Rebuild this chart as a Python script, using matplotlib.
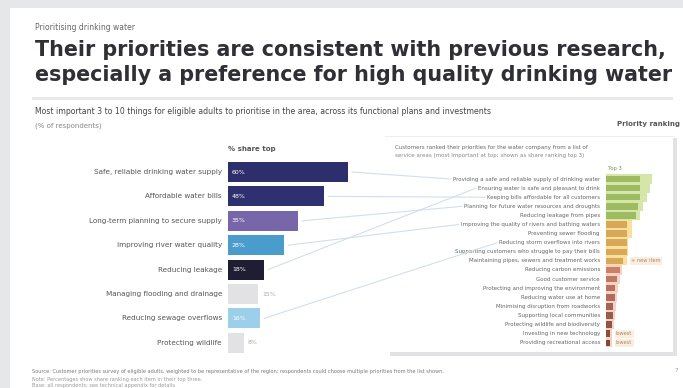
import matplotlib
matplotlib.use("Agg")
import matplotlib.pyplot as plt
from matplotlib.patches import Rectangle, ConnectionPatch

# ---------------- data ----------------
supertitle = "Prioritising drinking water"
title_lines = ["Their priorities are consistent with previous research,",
               "especially a preference for high quality drinking water"]
subtitle = ["Most important 3 to 10 things for eligible adults to prioritise in the area, across its functional plans and investments",
            "(% of respondents)"]
left_header = "% share top"
right_header = "Priority ranking"

left_labels = ["Safe, reliable drinking water supply",
               "Affordable water bills",
               "Long-term planning to secure supply",
               "Improving river water quality",
               "Reducing leakage",
               "Managing flooding and drainage",
               "Reducing sewage overflows",
               "Protecting wildlife"]
left_values = [60, 48, 35, 28, 18, 15, 16, 8]
left_value_labels = ["60%", "48%", "35%", "28%", "18%", "15%", "16%", "8%"]
left_colors = ["#2d2e6c", "#2f3070", "#7766aa", "#4a9ccd", "#1e1d33",
               "#e2e2e4", "#9ccfe9", "#e2e2e4"]
left_text_inside = [True, True, True, True, True, False, True, False]

panel_note = ["Customers ranked their priorities for the water company from a list of",
              "service areas (most important at top; shown as share ranking top 3)"]
right_labels = ["Providing a safe and reliable supply of drinking water",
                "Ensuring water is safe and pleasant to drink",
                "Keeping bills affordable for all customers",
                "Planning for future water resources and droughts",
                "Reducing leakage from pipes",
                "Improving the quality of rivers and bathing waters",
                "Preventing sewer flooding",
                "Reducing storm overflows into rivers",
                "Supporting customers who struggle to pay their bills",
                "Maintaining pipes, sewers and treatment works",
                "Reducing carbon emissions",
                "Good customer service",
                "Protecting and improving the environment",
                "Reducing water use at home",
                "Minimising disruption from roadworks",
                "Supporting local communities",
                "Protecting wildlife and biodiversity",
                "Investing in new technology",
                "Providing recreational access"]
right_outer = [46, 44, 41, 37, 34, 26, 26, 22, 22, 21, 16, 14, 12, 11, 10, 9, 8, 6, 6]
right_inner = [34, 34, 34, 32, 30, 21, 21, 21, 21, 17, 14, 11, 9, 9, 7, 7, 6, 4, 4]
right_inner_colors = ["#9cbb62"] * 5 + ["#d8a85a"] * 5 + \
                     ["#c98068", "#c07a64", "#b97262", "#b06c5c", "#a46454",
                      "#985c4c", "#8f5545", "#86503f", "#7f4a3b"]
right_outer_colors = ["#d4e7a9"] * 5 + ["#fddf9c"] * 5 + ["#f7d2c3"] * 9
right_notes = {9: "+ new item", 17: "lowest", 18: "lowest"}

links = [(0, 0), (1, 2), (2, 3), (3, 5), (4, 1), (6, 7)]

footnote = ["Source: Customer priorities survey of eligible adults, weighted to be representative of the region; respondents could choose multiple priorities from the list shown.",
            "Note: Percentages show share ranking each item in their top three.",
            "Base: all respondents; see technical appendix for details"]

# ---------------- figure ----------------
W, H = 683, 388
fig = plt.figure(figsize=(W / 100, H / 100), dpi=100)
fig.patch.set_facecolor("#e6e7e9")


def fx(x):
    return x / W


def fy(y):
    return 1 - y / H


# white card
fig.add_artist(Rectangle((fx(10), 0), 1 - fx(10), fy(8), transform=fig.transFigure,
                         facecolor="white", edgecolor="none", zorder=0))

fig.text(fx(35), fy(28), supertitle, fontsize=5.5, color="#666666", va="center")
fig.text(fx(35), fy(50), title_lines[0], fontsize=14.9, fontweight="bold",
         color="#2f2f35", va="center")
fig.text(fx(35), fy(75), title_lines[1], fontsize=14.9, fontweight="bold",
         color="#2f2f35", va="center")
fig.add_artist(Rectangle((fx(32), fy(100)), fx(673 - 32), 3 / H, transform=fig.transFigure,
                         facecolor="#e9e9eb", edgecolor="none"))
fig.text(fx(35), fy(112), subtitle[0], fontsize=5.6, color="#444444", va="center")
fig.text(fx(35), fy(126), subtitle[1], fontsize=5.0, color="#888888", va="center")
fig.text(fx(680), fy(124), right_header, fontsize=5.0, color="#555555", va="center",
         ha="right", fontweight="bold")

# ---------------- left bars ----------------
n = len(left_values)
top, bot = 159.8, 355.0
ax1 = fig.add_axes([fx(228), fy(bot), fx(200), (bot - top) / H])
ax1.barh(range(n), left_values, height=0.82, color=left_colors)
ax1.set_xlim(0, 100)
ax1.set_ylim(n - 0.5, -0.5)
ax1.axis("off")
ax1.text(0, -0.95, left_header, fontsize=5, color="#555555", fontweight="bold",
         va="center", ha="left")
for i, (lab, v, vl, inside) in enumerate(zip(left_labels, left_values, left_value_labels, left_text_inside)):
    ax1.text(-3, i, lab, fontsize=5.2, color="#555555", ha="right", va="center")
    if inside:
        ax1.text(2, i, vl, fontsize=4.5, color="white", ha="left", va="center")
    else:
        ax1.text(v + 2, i, vl, fontsize=4.5, color="#aaaaaa", ha="left", va="center")

# ---------------- right panel ----------------
fig.add_artist(Rectangle((fx(385), fy(137)), fx(675 - 385), 1.5 / H, transform=fig.transFigure,
                         facecolor="#eeeeef", edgecolor="none"))
fig.add_artist(Rectangle((fx(673), fy(356)), 4 / W, (356 - 138) / H, transform=fig.transFigure,
                         facecolor="#e2e2e4", edgecolor="none"))
fig.add_artist(Rectangle((fx(390), fy(356)), fx(677 - 390), 4 / H, transform=fig.transFigure,
                         facecolor="#e2e2e4", edgecolor="none"))
fig.text(fx(395), fy(147), panel_note[0], fontsize=4.0, color="#666666", va="center")
fig.text(fx(395), fy(156), panel_note[1], fontsize=4.0, color="#888888", va="center")

m = len(right_outer)
rtop = 179 - 4.55
rbot = 179 + (m - 1) * 9.1 + 4.55
ax2 = fig.add_axes([fx(606), fy(rbot), fx(60), (rbot - rtop) / H])
ax2.barh(range(m), right_outer, height=1.0, color=right_outer_colors)
ax2.barh(range(m), right_inner, height=0.72, color=right_inner_colors)
ax2.barh([-1.2], [44], height=1.0, color="#e3efcb")
ax2.text(2, -1.2, "Top 3", fontsize=3.8, color="#7a8a5a", va="center")
ax2.set_xlim(0, 60)
ax2.set_ylim(m - 0.5, -0.5)
ax2.axis("off")
right_texts = []
for j, lab in enumerate(right_labels):
    t = ax2.text(-6, j, lab, fontsize=4.0, color="#666666", ha="right", va="center")
    right_texts.append(t)
for j, note in right_notes.items():
    ax2.text(right_outer[j] + 4, j, note, fontsize=3.6, color="#a08a70", va="center",
             bbox=dict(boxstyle="square,pad=0.3", facecolor="#fbeede", edgecolor="none"))

# connecting lines
fig.canvas.draw()
renderer = fig.canvas.get_renderer()
for i, j in links:
    bb = right_texts[j].get_window_extent(renderer)
    cp = ConnectionPatch(xyA=(left_values[i] + 2, i), coordsA=ax1.transData,
                         xyB=(bb.x0 - 2, (bb.y0 + bb.y1) / 2), coordsB="figure pixels",
                         color="#cfe0ee", linewidth=0.8)
    fig.add_artist(cp)

# ---------------- footnote ----------------
fig.text(fx(32), fy(371), footnote[0], fontsize=3.6, color="#777777", va="center")
fig.text(fx(32), fy(379), footnote[1], fontsize=3.6, color="#999999", va="center")
fig.text(fx(32), fy(386), footnote[2], fontsize=3.6, color="#999999", va="center")
fig.text(fx(678), fy(371), "7", fontsize=4, color="#999999", va="center", ha="right")

fig.savefig("out.png", dpi=100, facecolor=fig.get_facecolor())
